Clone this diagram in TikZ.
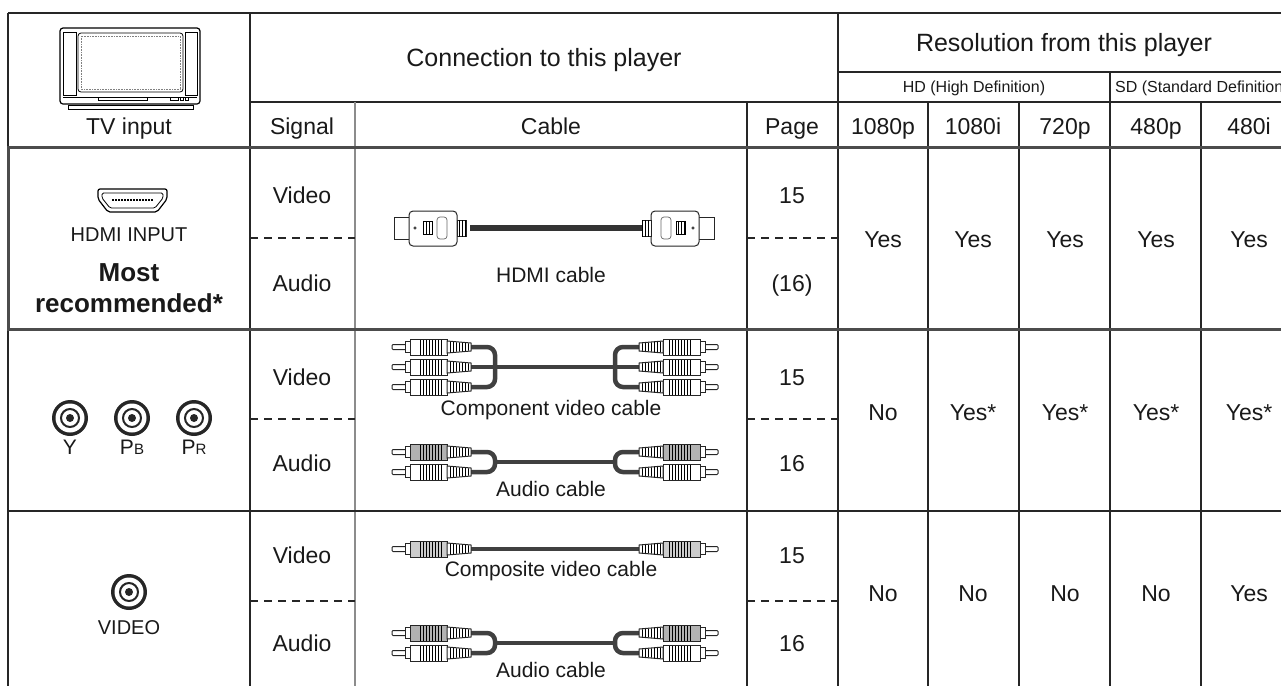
\documentclass[tikz,border=0pt]{standalone}
\usepackage{fontspec}
\setmainfont{Liberation Sans}
\usetikzlibrary{patterns}
\tikzset{
    txt/.style = {font=\fontsize{23}{26}\selectfont, text=black!90, text height=16.5pt, text depth=0pt},
    head/.style = {font=\fontsize{25}{28}\selectfont, text=black!90, text height=18pt, text depth=0pt},
    port/.style = {font=\fontsize{20}{23}\selectfont, text=black!90, text height=14.5pt, text depth=0pt},
    cbl/.style = {font=\fontsize{21}{24}\selectfont, text=black!90, text height=15pt, text depth=0pt},
    fine/.style = {font=\fontsize{16}{19}\selectfont, text=black!90, text height=11.5pt, text depth=0pt},
    best/.style = {font=\bfseries\fontsize{26}{30}\selectfont, text=black!90, text height=19pt, text depth=0pt},
    gline/.style = {line width=1.5pt, black!85},
    soft/.style = {line width=2pt, black!45},
    heavy/.style = {line width=3pt, black!70},
    sep/.style = {line width=1.2pt, black!85, dash pattern=on 8pt off 6pt},
    cord/.style = {line width=4.5pt, black!75, rounded corners=8pt},
    plug/.style = {draw=black!85, line width=1pt, fill=white}
}
\newcommand{\rcaplug}[4]{%
    \begin{scope}[shift={(#1,#2)}, xscale=#3]
        \draw[plug, rounded corners=1pt] (0,-2.5) rectangle (16,2.5);
        \draw[plug] (13,-5.5) rectangle (18,5.5);
        \draw[plug, fill=#4] (18,-8) rectangle (55,8);
        \fill[pattern=vertical lines] (27,-7) rectangle (50,7);
        \draw[plug] (55,-6) -- (79,-4) -- (79,4) -- (55,6) -- cycle;
        \fill[pattern=vertical lines] (56,-5.5) -- (78,-3.5) -- (78,3.5) -- (56,5.5) -- cycle;
    \end{scope}}
\newcommand{\hdmiplug}[3]{%
    \begin{scope}[shift={(#1,#2)}, xscale=#3]
        \draw[plug] (0,-11) rectangle (16,11);
        \draw[plug, rounded corners=4pt] (15,-17) rectangle (63,18);
        \draw[line width=0.6pt] (21,0) circle[radius=1.2pt];
        \fill[pattern=vertical lines] (29,-7) rectangle (38,6);
        \draw[line width=0.6pt] (29,-7) rectangle (38,6);
        \draw[black!60, line width=0.7pt, rounded corners=3pt] (43,-11) rectangle (53,11);
        \draw[plug] (63,-8) rectangle (72,8);
        \fill[pattern=vertical lines] (63,-8) rectangle (72,8);
    \end{scope}}
\newcommand{\tvjack}[2]{%
    \fill[black!85] (#1,#2) circle[radius=18pt];
    \fill[white] (#1,#2) circle[radius=14.5pt];
    \draw[black!85, line width=2pt] (#1,#2) circle[radius=9pt];
    \fill[black!85] (#1,#2) circle[radius=4pt];}

\begin{document}
\begin{tikzpicture}[x=1pt,y=-1pt]
    \useasboundingbox (0,0) rectangle (1281,686);
    \clip (0,0) rectangle (1281,686);

    % table rules
    \draw[gline] (8,13) -- (1300,13);
    \draw[gline] (8,13) -- (8,147) (8,329) -- (8,686);
    \draw[gline] (250,13) -- (250,686) (838,13) -- (838,686);
    \draw[gline] (250,102) -- (1300,102) (838,72) -- (1300,72);
    \draw[gline] (1110,72) -- (1110,686);
    \foreach \x in {747,928,1019,1201}
        \draw[gline] (\x,102) -- (\x,686);
    \draw[soft] (355,102) -- (355,686);
    \draw[gline] (8,511) -- (1300,511);
    \draw[heavy] (1300,147) -- (8,147) -- (8,329) -- (1300,329);
    \foreach \y in {238,419,601}
        \draw[sep] (250,\y) -- (355,\y) (747,\y) -- (838,\y);

    % header
    \node[head] (conn) at (544,57) {Connection to this player};
    \node[head] (res) at (1064,42) {Resolution from this player};
    \node[fine] (hd) at (974,87) {HD (High Definition)};
    \node[fine, anchor=west, inner sep=0pt] (sd) at (1115,87) {SD (Standard Definition)};
    \node[txt] (tvin) at (129,126) {TV input};
    \node[txt] (sig) at (302,126) {Signal};
    \node[txt] (cab) at (551,126) {Cable};
    \node[txt] (pg) at (792,126) {Page};
    \foreach \x/\t [count=\i] in {883/1080p,973/1080i,1065/720p,1156/480p,1249/480i}
        \node[txt] (fmt\i) at (\x,126) {\t};

    % tv set
    \draw[line width=1.2pt, rounded corners=3pt] (60,28) rectangle (200,104);
    \draw[line width=0.8pt] (63,32) rectangle (76,95) (185,32) rectangle (197,95);
    \draw[line width=0.8pt, rounded corners=3pt] (78,33) rectangle (183,92);
    \draw[black!50, densely dotted, line width=0.6pt] (81,36) rectangle (180,89);
    \draw[line width=0.8pt] (63,97) -- (197,97);
    \draw[line width=0.8pt] (98,97) rectangle (147,100);
    \draw[line width=0.6pt] (170,97) rectangle (178,100) (180,97) rectangle (183,100) (185,97) rectangle (188,100);
    \draw[line width=0.8pt] (68,105) rectangle (193,109);

    % hdmi row
    \draw[line width=1.2pt, rounded corners=2pt] (98,189) -- (167,189) -- (167,199) -- (157,212) -- (108,212) -- (98,199) -- cycle;
    \draw[line width=0.8pt, rounded corners=1.5pt] (102,193) -- (163,193) -- (163,198) -- (155,208) -- (110,208) -- (102,198) -- cycle;
    \draw[line width=2.5pt, dash pattern=on 1.5pt off 1.5pt] (112,200) -- (153,200);
    \node[port] (hdin) at (129,234) {HDMI INPUT};
    \node[best] (most) at (129,272) {Most};
    \node[best] (reco) at (129,303) {recommended*};
    \draw[line width=6pt, black!80] (470,228) -- (644,228);
    \hdmiplug{394}{228}{1}
    \hdmiplug{714}{228}{-1}
    \node[cbl] (hdcab) at (551,275) {HDMI cable};

    % component row
    \tvjack{70}{418} \tvjack{132}{418} \tvjack{194}{418}
    \node[cbl] (jy) at (70,447) {Y};
    \node[cbl] (jb) at (132,447) {P{\fontsize{15}{17}\selectfont B}};
    \node[cbl] (jr) at (194,447) {P{\fontsize{15}{17}\selectfont R}};
    \draw[cord] (470,347) -- (495,347) -- (495,387) -- (470,387);
    \draw[cord] (641,347) -- (615,347) -- (615,387) -- (641,387);
    \draw[cord] (470,367) -- (641,367);
    \foreach \y in {347,367,387} {
        \rcaplug{392}{\y}{1}{white}
        \rcaplug{718}{\y}{-1}{white}
    }
    \node[cbl] (cpcab) at (551,408) {Component video cable};
    \draw[cord] (470,452) -- (495,452) -- (495,472) -- (470,472);
    \draw[cord] (641,452) -- (615,452) -- (615,472) -- (641,472);
    \draw[cord] (495,462) -- (615,462);
    \rcaplug{392}{452}{1}{black!30} \rcaplug{718}{452}{-1}{black!30}
    \rcaplug{392}{472}{1}{white} \rcaplug{718}{472}{-1}{white}
    \node[cbl] (aucab2) at (551,489) {Audio cable};

    % composite row
    \tvjack{129}{592}
    \node[port] (vdin) at (129,627) {VIDEO};
    \draw[cord] (470,549) -- (641,549);
    \rcaplug{392}{549}{1}{black!20} \rcaplug{718}{549}{-1}{black!20}
    \node[cbl] (cmcab) at (551,569) {Composite video cable};
    \draw[cord] (470,633) -- (495,633) -- (495,653) -- (470,653);
    \draw[cord] (641,633) -- (615,633) -- (615,653) -- (641,653);
    \draw[cord] (495,643) -- (615,643);
    \rcaplug{392}{633}{1}{black!30} \rcaplug{718}{633}{-1}{black!30}
    \rcaplug{392}{653}{1}{white} \rcaplug{718}{653}{-1}{white}
    \node[cbl] (aucab3) at (551,670) {Audio cable};

    % signal and page
    \foreach \y/\s/\p [count=\i] in {195/Video/15,283/Audio/(16),377/Video/15,463/Audio/16,555/Video/15,643/Audio/16} {
        \node[txt] (sg\i) at (302,\y) {\s};
        \node[txt] (pn\i) at (792,\y) {\p};
    }

    % resolution answers
    \foreach \x/\a/\b/\c [count=\i] in {883/Yes/No/No,973/Yes/Yes*/No,1065/Yes/Yes*/No,1156/Yes/Yes*/No,1249/Yes/Yes*/Yes} {
        \node[txt] (ra\i) at (\x,239) {\a};
        \node[txt] (rb\i) at (\x,412) {\b};
        \node[txt] (rc\i) at (\x,593) {\c};
    }
\end{tikzpicture}
\end{document}
